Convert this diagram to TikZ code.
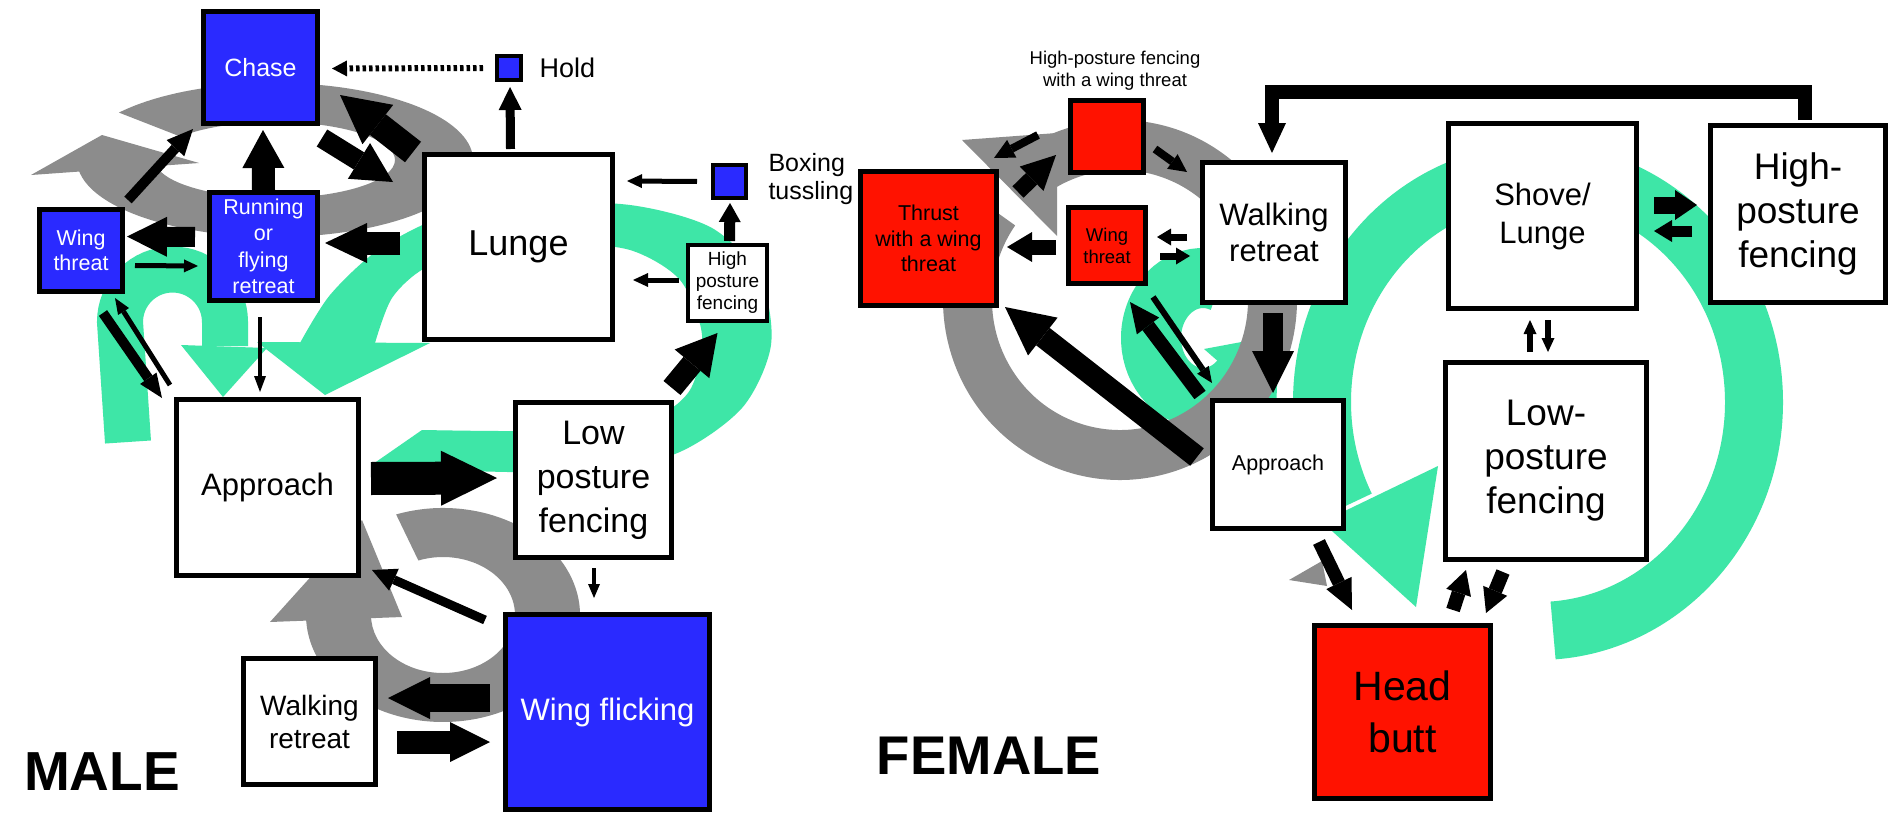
\documentclass[tikz,border=0pt]{standalone}
\usepackage{fontspec}
\setmainfont{Liberation Sans}
\usetikzlibrary{arrows.meta,calc}
\definecolor{bbox}{RGB}{42,42,255}
\definecolor{rbox}{RGB}{255,18,0}
\definecolor{grn}{RGB}{62,230,167}
\definecolor{gry}{RGB}{140,140,140}
\tikzset{
  bx/.style={draw=black, line width=5pt, inner sep=0pt, align=center},
  sbx/.style={draw=black, line width=4pt, inner sep=0pt, align=center},
  fs/.style n args={2}{font=\fontsize{#1}{#2}\selectfont},
  blk/.style n args={3}{draw=black, line width=#1, -{Triangle[width=#2,length=#3,line width=0pt]}},
}
\begin{document}
\begin{tikzpicture}[x=1pt,y=-1pt]
\useasboundingbox (0,0) rectangle (1890,816);
\fill[white] (0,0) rectangle (1890,816);

% ---------------- MALE background loops ----------------
\fill[grn] plot[smooth] coordinates {(373,464) (470,471) (580,471) (675,454) (742,408) (771,345) (760,278) (712,228) (630,205) (520,203) (440,218) (378,250) (330,295) (300,343)}
  -- plot[smooth] coordinates {(375,343) (392,298) (425,268) (480,250) (560,244) (630,250) (680,280) (702,335) (690,390) (650,420) (580,430) (500,431) (422,430)} -- cycle;
\fill[grn] (257,342) -- (430,343) -- (325,395) -- cycle;
\draw[grn, line width=46pt] (128,442) -- (120,322) arc[start angle=180,end angle=360,radius=52.5] -- (225,346);
\fill[grn] (181,345) -- (267,348) -- (223,397) -- cycle;

\fill[gry] ($(275,160)+(218:198 and 77)$) arc[start angle=218,end angle=540,x radius=198,y radius=77]
  -- ($(275,160)+(540:120 and 38)$) arc[start angle=540,end angle=218,x radius=120,y radius=38] -- cycle;
\fill[gry] (31,175) -- (199,163) -- (102,135) -- cycle;

\fill[gry] ($(443,615)+(250:137 and 107)$) arc[start angle=250,end angle=540,x radius=137,y radius=107]
  -- ($(443,615)+(540:72 and 58)$) arc[start angle=540,end angle=250,x radius=72,y radius=58] -- cycle;
\fill[gry] (270,622) -- (402,617) -- (362,520) -- cycle;

% ---------------- FEMALE background loops ----------------
\draw[grn, line width=58pt] ($(1538,402)+(86:216 and 229)$) arc[start angle=86,end angle=-207,x radius=216,y radius=229];
\fill[grn] (1322,522) -- (1438,466) -- (1416,607) -- cycle;
\draw[grn, line width=60pt] ($(1203,338)+(290:52 and 60)$) arc[start angle=290,end angle=45,x radius=52,y radius=60];
\fill[grn] (1276,412) -- (1204,349) -- (1279,335) -- cycle;

\fill[gry] ($(1120,300)+(215:177 and 180)$) arc[start angle=215,end angle=-120,x radius=177,y radius=180]
  -- ($(1120,300)+(-120:128 and 130)$) arc[start angle=-120,end angle=215,x radius=128,y radius=130] -- cycle;
\fill[gry] (962,140) -- (1057,133) -- (1057,236) -- cycle;
\fill[gry] (1289,580) -- (1322,561) -- (1327,586) -- cycle;

% ---------------- MALE boxes ----------------
\node[bx, fill=bbox, text=white, minimum width=114pt, minimum height=112pt, fs={25}{30}] (chase) at (260.5,67.5) {Chase};
\node[sbx, fill=bbox, minimum width=24pt, minimum height=24pt] (hold) at (509,68) {};
\node[bx, fill=white, minimum width=188pt, minimum height=185pt, fs={36}{40}] (lunge) at (518.5,247) {Lunge};
\node[sbx, fill=bbox, minimum width=33pt, minimum height=33pt] (boxg) at (729.5,181.5) {};
\node[sbx, fill=white, minimum width=79pt, minimum height=76pt, fs={19}{22}] (hpfM) at (727.5,283) {High\\posture\\fencing};
\node[bx, fill=bbox, text=white, minimum width=108pt, minimum height=108pt, fs={21.5}{26.5}] (running) at (263.5,246.5) {Running\\or\\flying\\retreat};
\node[bx, fill=bbox, text=white, minimum width=83pt, minimum height=82pt, fs={21.5}{25}] (wtM) at (81,250.5) {Wing\\threat};
\node[bx, fill=white, minimum width=182pt, minimum height=176pt, fs={31}{36}] (approachM) at (267.5,487.5) {Approach};
\node[bx, fill=white, minimum width=156pt, minimum height=155pt, fs={34}{44}] (lpfM) at (593.5,480) {Low\\posture\\fencing};
\node[bx, fill=bbox, text=white, minimum width=204pt, minimum height=195pt, fs={31}{36}] (wflick) at (607.5,712) {Wing flicking};
\node[bx, fill=white, minimum width=132pt, minimum height=126pt, fs={28}{33}] (walkM) at (309.5,721.5) {Walking\\retreat};

\node[anchor=west, fs={27}{30}] (holdl) at (536,68) {Hold};
\node[anchor=west, align=left, fs={25}{28}] (boxl) at (765,179) {Boxing\\tussling};
\node[font=\bfseries\fontsize{55}{60}\selectfont] (male) at (102,772) {MALE};

% ---------------- FEMALE boxes ----------------
\node[bx, fill=rbox, minimum width=73pt, minimum height=72pt] (hpfwt) at (1107,136.5) {};
\node[bx, fill=rbox, minimum width=136pt, minimum height=134pt, fs={21.5}{25.5}] (thrust) at (928.5,238.5) {Thrust\\with a wing\\threat};
\node[bx, fill=rbox, minimum width=77pt, minimum height=76pt, fs={18.5}{22}] (wtF) at (1107,245.5) {Wing\\threat};
\node[bx, fill=white, minimum width=143pt, minimum height=140pt, fs={31}{36}] (walkF) at (1274,232.5) {Walking\\retreat};
\node[bx, fill=white, minimum width=188pt, minimum height=185pt, fs={31}{38}] (shove) at (1542.5,216) {Shove/\\Lunge};
\node[bx, fill=white, minimum width=175pt, minimum height=177pt, fs={37}{44}] (hpfF) at (1798,214) {High-\\posture\\fencing};
\node[bx, fill=white, minimum width=201pt, minimum height=197pt, fs={37}{44}] (lpfF) at (1546,461) {Low-\\posture\\fencing};
\node[bx, fill=white, minimum width=131pt, minimum height=128pt, fs={21.5}{26}] (approachF) at (1278,464.5) {Approach};
\node[bx, fill=rbox, minimum width=176pt, minimum height=173pt, fs={41}{52}] (headbutt) at (1402.5,712) {Head\\butt};

\node[fs={18.5}{22}, align=center] (hpfwtl) at (1115,71) {High-posture fencing\\with a wing threat};
\node[font=\bfseries\fontsize{54.5}{60}\selectfont] (female) at (989,756) {FEMALE};

% ---------------- MALE arrows ----------------
\draw[line width=6pt, dash pattern=on 3.5pt off 3pt, -{Triangle[width=16pt,length=15pt,line width=0pt]}] ($(hold.west)+(-12,0)$) -- ($(chase.east)+(12,1)$);
\draw[blk={9pt}{23pt}{23pt}] ($(lunge.north)+(-8,-3)$) -- ($(hold.south)+(1,5)$);
\draw[blk={5pt}{14pt}{15pt}] ($(boxg.west)+(-14,0)$) -- ($(lunge.east)+(12,-66)$);
\draw[blk={11pt}{22pt}{19pt}] ($(hpfM.north)+(2,-2)$) -- ($(boxg.south)+(0.5,3)$);
\draw[blk={5pt}{14pt}{15pt}] ($(hpfM.west)+(-7,-3)$) -- ($(lunge.east)+(18,33)$);
\draw[blk={22pt}{45pt}{40pt}] ($(lpfM.north east)+(-2,-12)$) -- ($(hpfM.south)+(-10,10)$);
\draw[blk={33pt}{55pt}{56pt}] ($(approachM.east)+(10,-9)$) -- ($(lpfM.west)+(-16,-2)$);
\draw[blk={4pt}{12pt}{14pt}] ($(lpfM.south)+(0.5,8)$) -- ($(wflick.north)+(-13.5,-14)$);
\draw[blk={9pt}{24pt}{24pt}] ($(wflick.north west)+(-18,8)$) -- ($(approachM.south east)+(11,-8)$);
\draw[blk={28pt}{42pt}{42pt}] ($(wflick.west)+(-13,-14)$) -- ($(walkM.east)+(10,-23.5)$);
\draw[blk={23pt}{40pt}{40pt}] ($(walkM.east)+(19,20.5)$) -- ($(wflick.west)+(-13,30)$);
\draw[blk={23pt}{42pt}{38pt}] (running.north) -- ($(chase.south)+(2.5,4)$);
\draw[blk={23pt}{40pt}{42pt}] ($(lunge.west)+(-22,-4)$) -- ($(running.east)+(5,-3.5)$);
\draw[blk={20pt}{40pt}{40pt}] ($(running.west)+(-12,-9.5)$) -- ($(wtM.east)+(2,-14)$);
\draw[blk={5pt}{13pt}{14pt}] ($(wtM.east)+(10,15)$) -- ($(running.west)+(-9,19.5)$);
\draw[blk={10pt}{24pt}{26pt}] ($(wtM.north east)+(3,-7)$) -- ($(chase.south west)+(-8,3)$);
\draw[blk={20pt}{42pt}{40pt}] ($(chase.south east)+(2,12)$) -- ($(lunge.north west)+(-29,30)$);
\draw[blk={26pt}{50pt}{48pt}] ($(lunge.north west)+(-9,0)$) -- ($(chase.east)+(20,27.5)$);
\draw[blk={4pt}{12pt}{16pt}] ($(running.south)+(-3.5,14)$) -- ($(approachM.north)+(-7.5,-5)$);
\draw[blk={10pt}{20pt}{24pt}] ($(wtM.south)+(22,19)$) -- ($(approachM.north west)+(-12,1)$);
\draw[blk={5pt}{13pt}{16pt}] ($(approachM.north west)+(-4,-12)$) -- ($(wtM.south)+(34,4)$);

% ---------------- FEMALE arrows ----------------
\draw[blk={14pt}{28pt}{30pt}, line join=miter] ($(hpfF.north)+(7,-3)$) -- ++(0,-28) -| ($(walkF.north)+(-2,-7)$);
\draw[blk={8pt}{18pt}{18pt}] ($(hpfwt.east)+(9,12.5)$) -- ($(walkF.north west)+(-13,12)$);
\draw[blk={8pt}{20pt}{20pt}] ($(hpfwt.west)+(-30,-1.5)$) -- ($(thrust.north east)+(-5,-11)$);
\draw[blk={16pt}{34pt}{34pt}] ($(thrust.north east)+(19,23)$) -- ($(hpfwt.west)+(-12,18.5)$);
\draw[blk={15pt}{30pt}{25pt}] ($(wtF.west)+(-10,1.5)$) -- ($(thrust.east)+(8,8.5)$);
\draw[blk={7pt}{17pt}{14pt}] ($(walkF.west)+(-13,4.5)$) -- ($(wtF.east)+(9,-8.5)$);
\draw[blk={7pt}{17pt}{14pt}] ($(wtF.east)+(12,10.5)$) -- ($(walkF.west)+(-10,23.5)$);
\draw[blk={20pt}{42pt}{42pt}] ($(walkF.south)+(-1,8)$) -- ($(approachF.north)+(-5,-5)$);
\draw[blk={22pt}{48pt}{48pt}] ($(approachF.west)+(-13,-7.5)$) -- ($(thrust.south east)+(6,-1)$);
\draw[blk={14pt}{28pt}{30pt}] ($(approachF.north west)+(-10,-3)$) -- ($(wtF.south)+(23,16)$);
\draw[blk={6pt}{14pt}{16pt}] ($(wtF.south)+(46,11)$) -- ($(approachF.north west)+(2,-15)$);
\draw[blk={13pt}{28pt}{30pt}] ($(approachF.south)+(41,11)$) -- ($(headbutt.north)+(-50.5,-13)$);
\draw[blk={14pt}{26pt}{24pt}] ($(headbutt.north)+(50.5,-13)$) -- ($(lpfF.south)+(-80,8)$);
\draw[blk={14pt}{26pt}{24pt}] ($(lpfF.south)+(-43,10)$) -- ($(headbutt.north)+(83.5,-10)$);
\draw[blk={6pt}{13pt}{14pt}] ($(lpfF.north)+(-16,-8)$) -- ($(shove.south)+(-12.5,9)$);
\draw[blk={6pt}{13pt}{14pt}] ($(shove.south)+(5.5,9)$) -- ($(lpfF.north)+(2,-8)$);
\draw[blk={17pt}{30pt}{22pt}] ($(shove.east)+(15,-11)$) -- ($(hpfF.west)+(-11,-9)$);
\draw[blk={11pt}{22pt}{18pt}] ($(hpfF.west)+(-16,17)$) -- ($(shove.east)+(15,15)$);
\end{tikzpicture}
\end{document}
